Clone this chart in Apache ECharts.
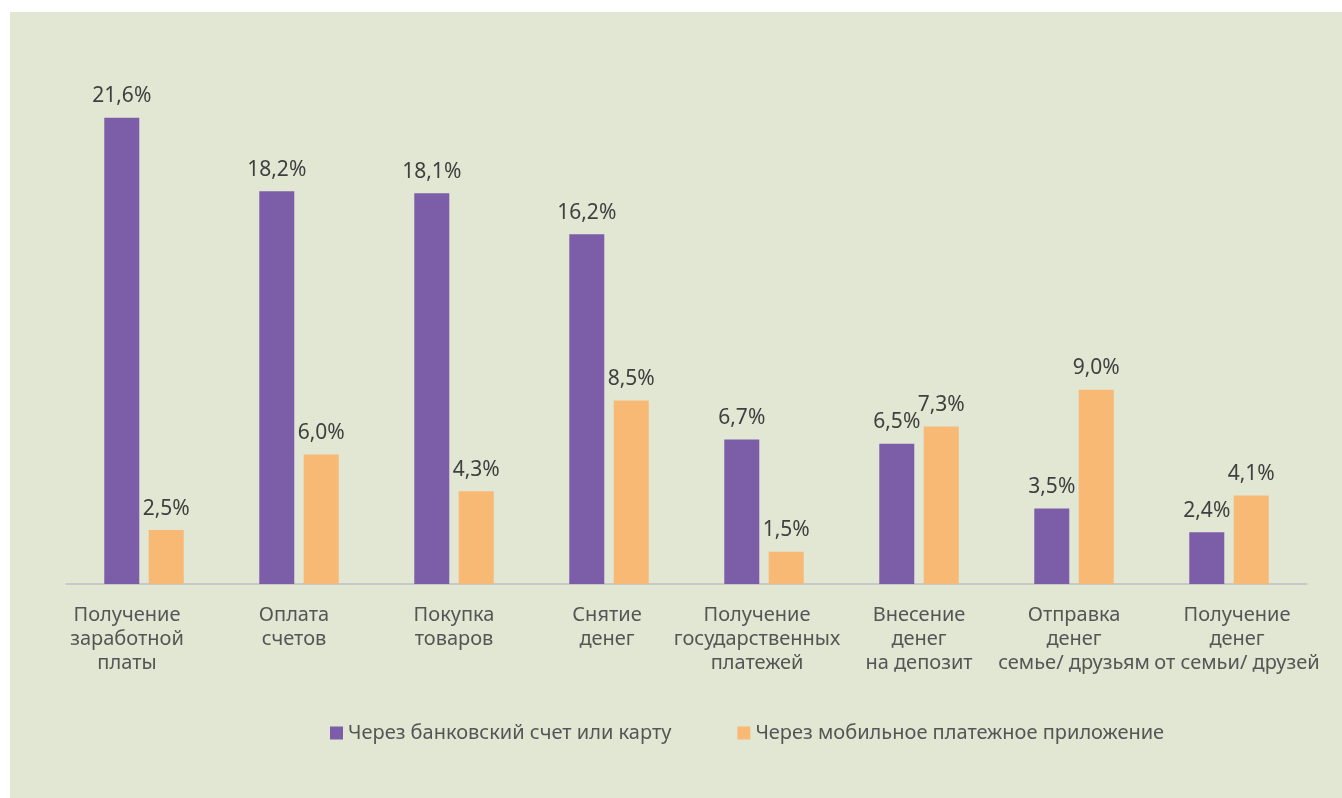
<!DOCTYPE html>
<html><head><meta charset="utf-8">
<script src="https://cdn.jsdelivr.net/npm/echarts@6/dist/echarts.min.js"></script>
<style>html,body{margin:0;padding:0;background:#fff;}#c{width:1342px;height:798px;}</style>
</head><body><div id="c"></div>
<script>
const categories = ["Получение\nзаработной\nплаты","Оплата\nсчетов","Покупка\nтоваров","Снятие\nденег","Получение\nгосударственных\nплатежей","Внесение\nденег\nна депозит","Отправка\nденег\nсемье/ друзьям","Получение\nденег\nот семьи/ друзей"];
const seriesNames = ["Через банковский счет или карту","Через мобильное платежное приложение"];
const bankValues = [21.6, 18.2, 18.1, 16.2, 6.7, 6.5, 3.5, 2.4];
const mobileValues = [2.5, 6.0, 4.3, 8.5, 1.5, 7.3, 9.0, 4.1];

const FONT = '"Noto Sans", sans-serif';
// horizontal nudges of the category labels (layout only)
const labelNudge = [-17, -5, 0, -2, -7, 0, 0, 8];
const catData = categories.map((c, i) => {
  const n = labelNudge[i];
  return {value: c, textStyle: {padding: n < 0 ? [0, -2*n, 0, 0] : [0, 0, 0, 2*n]}};
});
const chart = echarts.init(document.getElementById('c'), null, {renderer:'canvas'});
const lbl = {show:true, position:'top', distance:11, color:'#3f3f3f', fontSize:21, fontFamily:FONT,
  formatter: p => p.value.toFixed(1).replace('.', ',') + '%'};
chart.setOption({
  backgroundColor:'#ffffff',
  animation:false,
  graphic:[{type:'rect', z:-10, shape:{x:10, y:12, width:1332, height:786}, style:{fill:'#e2e7d4'}}],
  grid:{left:66.5, right:35.5, top:66, bottom:214, containLabel:false},
  legend:{left:325, top:718, itemWidth:13, itemHeight:13, itemGap:66, icon:'rect',
    textStyle:{color:'#555', fontSize:20, fontFamily:FONT}, data:seriesNames},
  xAxis:{type:'category', data:catData,
    axisLine:{lineStyle:{color:'#c8c8c8', width:2}}, axisTick:{show:false},
    axisLabel:{color:'#555', fontSize:20, fontFamily:FONT, lineHeight:24, margin:19, interval:0}},
  yAxis:{type:'value', min:0, max:24, show:false, splitLine:{show:false}},
  series:[
    {name:seriesNames[0], type:'bar', data:bankValues, barWidth:35, barGap:'27%', itemStyle:{color:'#7b5ea7'}, label:lbl},
    {name:seriesNames[1], type:'bar', data:mobileValues, barWidth:35, itemStyle:{color:'#f8b974'}, label:lbl}
  ]
});
</script></body></html>
